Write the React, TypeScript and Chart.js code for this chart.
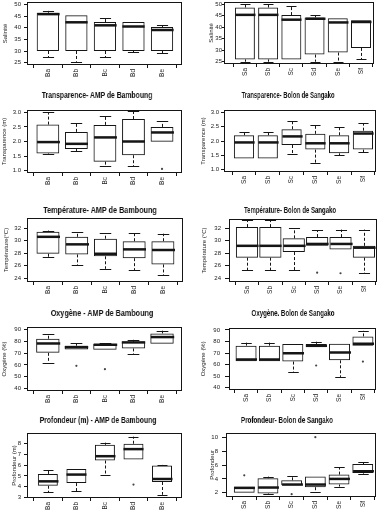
import React, { useEffect, useRef } from "react";
import { Chart, registerables } from "chart.js";

Chart.register(...registerables);

// ---------- categories ----------
const bambLabels = ["Ba", "Bb", "Bc", "Bd", "Be"];
const sangLabels = ["Sa", "Sb", "Sc", "Sd", "Se", "Sf"];

// ---------- y tick labels ----------
const salTicks = [25, 30, 35, 40, 45, 50];
const transTicks = [1.0, 1.5, 2.0, 2.5, 3.0];
const tempTicks = [24, 26, 28, 30, 32];
const oxyTicks = [40, 50, 60, 70, 80, 90];
const profBamTicks = [3, 4, 5, 6, 7, 8];
const profSangTicks = [2, 4, 6, 8, 10];

// ---------- Salinité - AMP de Bamboung ----------
const salBamMin = [27.3, 25.4, 27.3, 29.5, 29.1];
const salBamQ1 = [30.0, 30.0, 30.0, 30.0, 30.0];
const salBamMed = [45.8, 42.3, 41.0, 40.5, 39.0];
const salBamQ3 = [46.4, 45.3, 42.4, 42.4, 40.3];
const salBamMax = [47.2, 45.3, 44.0, 42.4, 41.0];
const salBamOut: [string, number][] = [];

// ---------- Salinité - Bolon de Sangako ----------
const salSangMin = [25.0, 25.0, 26.0, 25.0, 25.0, 26.0];
const salSangQ1 = [26.0, 26.0, 26.0, 28.1, 29.0, 31.0];
const salSangMed = [45.4, 45.4, 43.3, 43.7, 42.1, 42.3];
const salSangQ3 = [48.6, 48.6, 45.3, 44.3, 43.9, 43.1];
const salSangMax = [50.0, 50.0, 49.1, 45.3, 43.9, 43.1];
const salSangOut: [string, number][] = [];

// ---------- Transparence - AMP de Bamboung ----------
const trBamMin = [1.57, 1.67, 1.16, 1.16, 1.99];
const trBamQ1 = [1.59, 1.74, 1.31, 1.53, 1.99];
const trBamMed = [1.98, 1.92, 2.14, 2.0, 2.31];
const trBamQ3 = [2.58, 2.33, 2.57, 2.77, 2.5];
const trBamMax = [3.0, 2.65, 2.88, 3.05, 2.69];
const trBamOut: [string, number][] = [["Be", 1.06]];

// ---------- Transparence - Bolon de Sangako ----------
const trSangMin = [1.39, 1.39, 1.53, 1.24, 1.5, 1.61];
const trSangQ1 = [1.39, 1.39, 1.86, 1.7, 1.57, 1.7];
const trSangMed = [1.95, 1.95, 2.16, 1.92, 1.92, 2.26];
const trSangQ3 = [2.2, 2.2, 2.41, 2.25, 2.2, 2.36];
const trSangMax = [2.3, 2.3, 2.7, 2.57, 2.5, 2.61];
const trSangOut: [string, number][] = [];

// ---------- Température - AMP de Bamboung ----------
const tpBamMin = [27.4, 26.1, 25.5, 25.3, 24.5];
const tpBamQ1 = [27.9, 27.8, 27.5, 27.2, 26.2];
const tpBamMed = [30.6, 29.4, 27.9, 28.6, 28.5];
const tpBamQ3 = [31.4, 30.6, 30.3, 29.9, 29.9];
const tpBamMax = [31.6, 31.4, 31.2, 31.2, 31.1];
const tpBamOut: [string, number][] = [];

// ---------- Température - Bolon de Sangako ----------
const tpSangMin = [25.3, 25.3, 25.3, 29.2, 28.6, 24.8];
const tpSangQ1 = [27.3, 27.3, 28.2, 29.2, 28.6, 27.3];
const tpSangMed = [29.2, 29.2, 29.2, 29.5, 29.5, 28.9];
const tpSangQ3 = [32.2, 32.2, 30.4, 30.6, 30.6, 29.2];
const tpSangMax = [33.3, 33.3, 32.0, 31.7, 31.8, 31.8];
const tpSangOut: [string, number][] = [["Sd", 24.9], ["Se", 24.8]];

// ---------- Oxygène - AMP de Bamboung ----------
const oxBamMin = [62.0, 73.0, 72.8, 68.8, 77.9];
const oxBamQ1 = [70.2, 73.0, 72.8, 73.9, 77.9];
const oxBamMed = [78.1, 75.0, 77.0, 79.0, 83.5];
const oxBamQ3 = [82.1, 76.2, 77.9, 79.5, 86.6];
const oxBamMax = [86.0, 78.1, 78.1, 81.2, 88.9];
const oxBamOut: [string, number][] = [["Bb", 59.2], ["Bc", 56.4]];

// ---------- Oxygène - Bolon de Sangako ----------
const oxSangMin = [62.9, 62.9, 53.3, 75.0, 49.3, 76.2];
const oxSangQ1 = [62.9, 62.9, 62.6, 75.0, 63.7, 76.2];
const oxSangMed = [64.3, 64.3, 69.8, 76.2, 70.5, 78.1];
const oxSangQ3 = [76.4, 76.4, 77.9, 77.9, 78.1, 84.4];
const oxSangMax = [79.0, 79.0, 77.9, 79.8, 78.1, 89.2];
const oxSangOut: [string, number][] = [["Sd", 59.2], ["Sf", 62.6]];

// ---------- Profondeur - AMP de Bamboung ----------
const prBamMin = [3.5, 3.56, 5.06, 6.53, 3.25];
const prBamQ1 = [4.09, 4.34, 6.44, 6.53, 4.44];
const prBamMed = [4.5, 5.13, 6.84, 7.5, 4.72];
const prBamQ3 = [5.19, 5.66, 7.9, 8.0, 5.97];
const prBamMax = [5.56, 5.66, 8.1, 8.66, 6.03];
const prBamOut: [string, number][] = [["Bd", 4.2]];

// ---------- Profondeur - Bolon de Sangako ----------
const prSangMin = [2.0, 1.76, 3.1, 2.05, 2.9, 4.76];
const prSangQ1 = [2.0, 1.9, 3.1, 2.81, 3.19, 4.86];
const prSangMed = [2.71, 2.76, 3.19, 3.19, 4.0, 5.1];
const prSangQ3 = [2.86, 4.1, 3.8, 4.33, 4.62, 6.14];
const prSangMax = [2.86, 4.33, 4.43, 4.33, 5.71, 6.38];
const prSangOut: [string, number][] = [["Sa", 4.52], ["Sc", 1.8], ["Sd", 10.0]];

// ---------- styling ----------
const FONT = '"Liberation Sans", Arial, Helvetica, sans-serif';
const INK = "#151515";
const TXT = "#222";
const PADTOP = 8;
const XH = 20;

type Geom = {
  canvasLeft: number; frameTop: number; frameBottom: number; frameL: number; frameR: number;
  xMin: number; xMax: number; yMin: number; yMax: number; boxRatio: number; yTitleX: number;
  tickLen: number; tickPad: number;
};
type Spec = {
  labels: string[]; min: number[]; q1: number[]; med: number[]; q3: number[]; max: number[];
  out: [string, number][]; ticks: number[]; dec: number; yTitle: string; geom: Geom;
};

const specs: Spec[] = [
  { labels: bambLabels, min: salBamMin, q1: salBamQ1, med: salBamMed, q3: salBamQ3, max: salBamMax, out: salBamOut,
    ticks: salTicks, dec: 0, yTitle: "Salinité",
    geom: { canvasLeft: 0, frameTop: 2, frameBottom: 65, frameL: 27, frameR: 182, xMin: 0.27, xMax: 5.7, yMin: 24, yMax: 51, boxRatio: 0.78, yTitleX: 5.5, tickLen: 3, tickPad: 3 } },
  { labels: sangLabels, min: salSangMin, q1: salSangQ1, med: salSangMed, q3: salSangQ3, max: salSangMax, out: salSangOut,
    ticks: salTicks, dec: 0, yTitle: "Salinité",
    geom: { canvasLeft: 191, frameTop: 2, frameBottom: 64, frameL: 224, frameR: 374, xMin: 0.1, xMax: 6.56, yMin: 24, yMax: 51, boxRatio: 0.86, yTitleX: 20.7, tickLen: 2, tickPad: 0 } },
  { labels: bambLabels, min: trBamMin, q1: trBamQ1, med: trBamMed, q3: trBamQ3, max: trBamMax, out: trBamOut,
    ticks: transTicks, dec: 1, yTitle: "Transparence (m)",
    geom: { canvasLeft: 0, frameTop: 110, frameBottom: 173, frameL: 27, frameR: 182, xMin: 0.27, xMax: 5.7, yMin: 0.92, yMax: 3.08, boxRatio: 0.8, yTitleX: 4, tickLen: 3, tickPad: 3 } },
  { labels: sangLabels, min: trSangMin, q1: trSangQ1, med: trSangMed, q3: trSangQ3, max: trSangMax, out: trSangOut,
    ticks: transTicks, dec: 1, yTitle: "Transparence (m)",
    geom: { canvasLeft: 191, frameTop: 110, frameBottom: 172, frameL: 224, frameR: 376, xMin: 0.16, xMax: 6.55, yMin: 0.92, yMax: 3.08, boxRatio: 0.85, yTitleX: 12.5, tickLen: 3, tickPad: 2 } },
  { labels: bambLabels, min: tpBamMin, q1: tpBamQ1, med: tpBamMed, q3: tpBamQ3, max: tpBamMax, out: tpBamOut,
    ticks: tempTicks, dec: 0, yTitle: "Température(°C)",
    geom: { canvasLeft: 0, frameTop: 218, frameBottom: 282, frameL: 27, frameR: 183, xMin: 0.27, xMax: 5.7, yMin: 23.4, yMax: 33.6, boxRatio: 0.8, yTitleX: 6, tickLen: 3, tickPad: 3 } },
  { labels: sangLabels, min: tpSangMin, q1: tpSangQ1, med: tpSangMed, q3: tpSangQ3, max: tpSangMax, out: tpSangOut,
    ticks: tempTicks, dec: 0, yTitle: "Température (°C)",
    geom: { canvasLeft: 191, frameTop: 219, frameBottom: 282, frameL: 229, frameR: 377, xMin: 0.23, xMax: 6.56, yMin: 23.4, yMax: 33.5, boxRatio: 0.95, yTitleX: 13.5, tickLen: 4, tickPad: 4 } },
  { labels: bambLabels, min: oxBamMin, q1: oxBamQ1, med: oxBamMed, q3: oxBamQ3, max: oxBamMax, out: oxBamOut,
    ticks: oxyTicks, dec: 0, yTitle: "Oxygène (%)",
    geom: { canvasLeft: 0, frameTop: 327, frameBottom: 391, frameL: 27, frameR: 182, xMin: 0.27, xMax: 5.7, yMin: 38, yMax: 92, boxRatio: 0.82, yTitleX: 4, tickLen: 3, tickPad: 3 } },
  { labels: sangLabels, min: oxSangMin, q1: oxSangQ1, med: oxSangMed, q3: oxSangQ3, max: oxSangMax, out: oxSangOut,
    ticks: oxyTicks, dec: 0, yTitle: "Oxygène (%)",
    geom: { canvasLeft: 191, frameTop: 327, frameBottom: 390, frameL: 229, frameR: 376, xMin: 0.27, xMax: 6.56, yMin: 38, yMax: 92, boxRatio: 0.9, yTitleX: 12.5, tickLen: 4, tickPad: 5 } },
  { labels: bambLabels, min: prBamMin, q1: prBamQ1, med: prBamMed, q3: prBamQ3, max: prBamMax, out: prBamOut,
    ticks: profBamTicks, dec: 0, yTitle: "Profondeur (m)",
    geom: { canvasLeft: 0, frameTop: 433, frameBottom: 498, frameL: 27, frameR: 182, xMin: 0.27, xMax: 5.7, yMin: 2.95, yMax: 9.0, boxRatio: 0.7, yTitleX: 14, tickLen: 3, tickPad: 3 } },
  { labels: sangLabels, min: prSangMin, q1: prSangQ1, med: prSangMed, q3: prSangQ3, max: prSangMax, out: prSangOut,
    ticks: profSangTicks, dec: 0, yTitle: "Profondeur",
    geom: { canvasLeft: 191, frameTop: 433, frameBottom: 497, frameL: 226, frameR: 376, xMin: 0.23, xMax: 6.56, yMin: 1.4, yMax: 10.6, boxRatio: 0.88, yTitleX: 21, tickLen: 4, tickPad: 4 } },
];

const titles = [
  { text: "Transparence- AMP de Bamboung", cx: 97, cy: 95, w: 111 },
  { text: "Transparence- Bolon de Sangako", cx: 288, cy: 95, w: 93 },
  { text: "Température- AMP de Bamboung", cx: 100, cy: 210, w: 114 },
  { text: "Température- Bolon de Sangako", cx: 290, cy: 210, w: 92 },
  { text: "Oxygène - AMP de Bamboung", cx: 102, cy: 313, w: 103 },
  { text: "Oxygène. Bolon de Sangako", cx: 293, cy: 313, w: 83 },
  { text: "Profondeur (m) - AMP de Bamboung", cx: 98, cy: 420, w: 117 },
  { text: "Profondeur- Bolon de Sangako", cx: 287, cy: 420, w: 92 },
];

const TITLE_FONT = `bold 9.5px ${FONT}`;
let mctx: CanvasRenderingContext2D | null = null;
function measure(text: string): number {
  if (!mctx) mctx = document.createElement("canvas").getContext("2d");
  if (!mctx) return 100;
  mctx.font = TITLE_FONT;
  return mctx.measureText(text).width || 100;
}

function BoxPanel({ spec }: { spec: Spec }) {
  const ref = useRef<HTMLCanvasElement>(null);
  const g = spec.geom;
  const W = 191;
  const H = g.frameBottom - g.frameTop + PADTOP + XH;

  useEffect(() => {
    if (!ref.current) return;
    const n = spec.labels.length;
    const extras = {
      id: "boxExtras",
      afterDatasetsDraw(chart: any) {
        const { ctx, chartArea: a, scales } = chart;
        const xs = scales.x;
        const ys = scales.y;
        const unit = xs.getPixelForValue(2) - xs.getPixelForValue(1);
        const bw = unit * g.boxRatio;
        ctx.save();
        ctx.beginPath();
        ctx.rect(a.left, a.top, a.right - a.left, a.bottom - a.top);
        ctx.clip();
        ctx.strokeStyle = INK;
        for (let i = 0; i < n; i++) {
          const cx = Math.round(xs.getPixelForValue(i + 1)) + 0.5;
          const pMin = ys.getPixelForValue(spec.min[i]);
          const pQ1 = ys.getPixelForValue(spec.q1[i]);
          const pMed = ys.getPixelForValue(spec.med[i]);
          const pQ3 = ys.getPixelForValue(spec.q3[i]);
          const pMax = ys.getPixelForValue(spec.max[i]);
          ctx.lineWidth = 1;
          ctx.setLineDash([3, 2]);
          ctx.beginPath();
          if (spec.max[i] > spec.q3[i]) { ctx.moveTo(cx, pQ3); ctx.lineTo(cx, pMax); }
          if (spec.min[i] < spec.q1[i]) { ctx.moveTo(cx, pQ1); ctx.lineTo(cx, pMin); }
          ctx.stroke();
          ctx.setLineDash([]);
          ctx.beginPath();
          if (spec.max[i] > spec.q3[i]) { ctx.moveTo(cx - bw / 4, Math.round(pMax) + 0.5); ctx.lineTo(cx + bw / 4, Math.round(pMax) + 0.5); }
          if (spec.min[i] < spec.q1[i]) { ctx.moveTo(cx - bw / 4, Math.round(pMin) + 0.5); ctx.lineTo(cx + bw / 4, Math.round(pMin) + 0.5); }
          ctx.stroke();
          ctx.lineWidth = 2.5;
          ctx.beginPath();
          ctx.moveTo(cx - bw / 2, pMed);
          ctx.lineTo(cx + bw / 2, pMed);
          ctx.stroke();
        }
        ctx.restore();
        ctx.save();
        ctx.strokeStyle = INK;
        ctx.lineWidth = 1;
        ctx.strokeRect(Math.round(a.left) + 0.5, Math.round(a.top) + 0.5,
          Math.round(a.right - a.left) - 1, Math.round(a.bottom - a.top) - 1);
        ctx.restore();
      },
    };

    const chart = new Chart(ref.current, {
      type: "bar",
      data: {
        datasets: [
          {
            type: "bar",
            data: spec.labels.map((_, i) => ({ x: i + 1, y: [spec.q1[i], spec.q3[i]] })) as any,
            backgroundColor: "rgba(255,255,255,0)",
            borderColor: INK,
            borderWidth: 1,
            borderSkipped: false,
            barPercentage: g.boxRatio,
            categoryPercentage: 1,
          },
          {
            type: "scatter",
            data: spec.out.map(([lab, v]) => ({ x: spec.labels.indexOf(lab) + 1, y: v })),
            pointRadius: 1.1,
            pointBackgroundColor: "#444",
            pointBorderWidth: 0,
            pointHoverRadius: 0,
          } as any,
        ],
      },
      options: {
        animation: false,
        responsive: false,
        maintainAspectRatio: false,
        events: [],
        layout: { padding: { top: PADTOP, right: g.canvasLeft + W - g.frameR, left: 0, bottom: 0 } },
        plugins: { legend: { display: false }, tooltip: { enabled: false }, title: { display: false } },
        scales: {
          x: {
            type: "linear",
            min: g.xMin,
            max: g.xMax,
            offset: false,
            afterBuildTicks: (s: any) => { s.ticks = spec.labels.map((_, i) => ({ value: i + 1 })); },
            afterFit: (s: any) => { s.height = XH; },
            ticks: {
              autoSkip: false, maxRotation: 90, minRotation: 90, padding: 1, color: TXT,
              font: { size: 6.5, family: FONT },
              callback: (v: any) => spec.labels[Math.round(Number(v)) - 1] ?? "",
            },
            grid: { drawOnChartArea: false, drawTicks: true, tickLength: 3, color: INK, lineWidth: 1 },
            border: { display: false },
          },
          y: {
            type: "linear",
            min: g.yMin,
            max: g.yMax,
            afterBuildTicks: (s: any) => { s.ticks = spec.ticks.map((v) => ({ value: v })); },
            afterFit: (s: any) => { s.width = g.frameL - g.canvasLeft; },
            ticks: {
              padding: g.tickPad, color: TXT, font: { size: 6, family: FONT },
              callback: (v: any) => Number(v).toFixed(spec.dec),
            },
            grid: { drawOnChartArea: false, drawTicks: true, tickLength: g.tickLen, color: INK, lineWidth: 1 },
            border: { display: false },
            title: {
              display: true, text: spec.yTitle, color: TXT,
              font: { size: 6, family: FONT },
              padding: { top: Math.max(0, g.yTitleX - 3.6), bottom: 0 },
            },
          },
        },
      } as any,
      plugins: [extras],
    });
    return () => chart.destroy();
  }, [spec]);

  return (
    <canvas
      ref={ref}
      width={W}
      height={H}
      style={{ position: "absolute", left: g.canvasLeft, top: g.frameTop - PADTOP, width: W, height: H }}
    />
  );
}

export default function App() {
  return (
    <div
      style={{
        position: "fixed", left: 0, top: 0, width: 382, height: 512,
        background: "#fff", overflow: "hidden", fontFamily: FONT,
      }}
    >
      {specs.map((s, i) => (
        <BoxPanel key={i} spec={s} />
      ))}
      {titles.map((t, i) => {
        const sx = t.w / measure(t.text);
        return (
          <div
            key={"t" + i}
            style={{
              position: "absolute", left: t.cx - 150, width: 300, top: t.cy - 6, height: 12,
              lineHeight: "12px", textAlign: "center", font: TITLE_FONT, color: "#111",
              whiteSpace: "nowrap", transform: `scaleX(${sx})`, transformOrigin: "50% 50%",
              willChange: "transform",
            }}
          >
            {t.text}
          </div>
        );
      })}
    </div>
  );
}
